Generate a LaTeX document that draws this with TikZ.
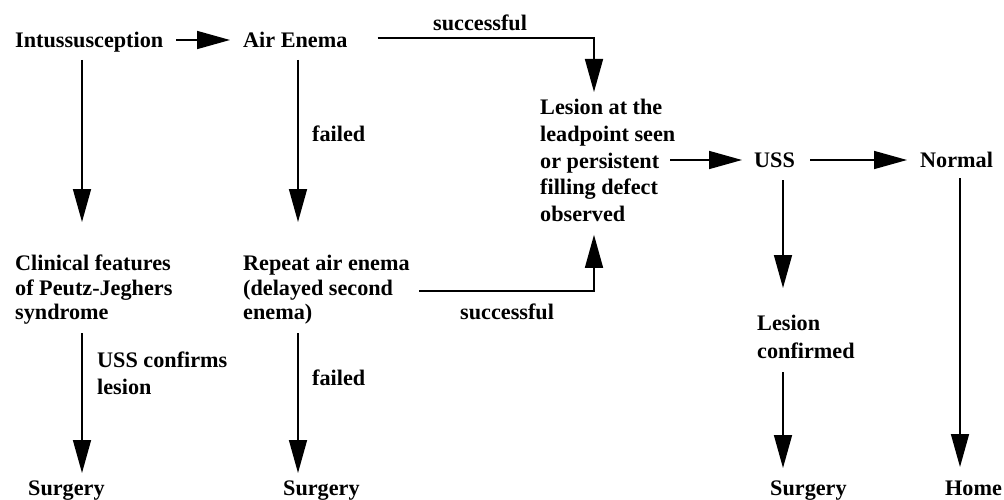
\documentclass[tikz,border=0pt]{standalone}
\usepackage{fontspec}
\setmainfont{Liberation Serif}
\usetikzlibrary{arrows.meta,calc}
\begin{document}
\begin{tikzpicture}[x=1pt,y=-1pt,
  txt/.style={font=\fontsize{22.2}{26.7}\selectfont\bfseries, inner sep=0pt, anchor=west, text height=15pt, text depth=0pt},
  multi/.style={font=\fontsize{22.2}{26.7}\selectfont\bfseries, inner sep=0pt, anchor=north west, align=left},
  arr/.style={line width=1.6pt, -{Triangle[length=33pt,width=18pt]}},
  plain/.style={line width=1.6pt}]
\useasboundingbox (0,0) rectangle (1004,500);
% nodes
\node[txt] (intus) at (15,40) {Intussusception};
\node[txt] (air) at (243,40) {Air Enema};
\node[txt] (succ1) at (433,23) {successful};
\node[multi] (lesion) at (540,99) {Lesion at the\\leadpoint seen\\or persistent\\filling defect\\observed};
\node[txt] (uss) at (754,160) {USS};
\node[txt] (normal) at (920,160) {Normal};
\node[txt] (failed1) at (312,134) {failed};
\node[multi,font=\fontsize{22.2}{24.5}\selectfont\bfseries] (clinical) at (15,255) {Clinical features\\of Peutz-Jeghers\\syndrome};
\node[multi,font=\fontsize{22.2}{24.5}\selectfont\bfseries] (repeat) at (243,255) {Repeat air enema\\(delayed second\\enema)};
\node[txt] (succ2) at (460,312) {successful};
\node[multi] (ussconf) at (97,352) {USS confirms\\lesion};
\node[txt] (failed2) at (312,378) {failed};
\node[multi,font=\fontsize{22.2}{28}\selectfont\bfseries] (lesconf) at (757,315) {Lesion\\confirmed};
\node[txt] (surg1) at (28,488) {Surgery};
\node[txt] (surg2) at (283,488) {Surgery};
\node[txt] (surg3) at (770,488) {Surgery};
\node[txt] (home) at (945,488) {Home};
% connectors
\draw[arr] ($(intus.east)+(13,0)$) -- ($(air.west)+(-13,0)$);
\draw[arr] ($(intus.west)+(67,20)$) -- ($(clinical.north west)+(67,-33)$);
\draw[arr] ($(air.west)+(55,20)$) -- ($(repeat.north west)+(55,-33)$);
\draw[arr] ($(air.east)+(30,-2)$) -| ($(lesion.north west)+(54,-7)$);
\draw[arr] ($(repeat.north west)+(176,36)$) -| ($(lesion.south west)+(54,13)$);
\draw[arr] ($(lesion.north west)+(130,61)$) -- ($(uss.west)+(-12,0)$);
\draw[arr] ($(uss.east)+(15,0)$) -- ($(normal.west)+(-13,0)$);
\draw[arr] ($(uss.west)+(29,20)$) -- ($(lesconf.north west)+(26,-27)$);
\draw[arr] ($(normal.west)+(40,18)$) -- ($(home.west)+(15,-21)$);
\draw[arr] ($(clinical.north west)+(67,78)$) -- ($(surg1.west)+(54,-15)$);
\draw[arr] ($(repeat.north west)+(55,78)$) -- ($(surg2.west)+(15,-15)$);
\draw[arr] ($(lesconf.north west)+(26,57)$) -- ($(surg3.west)+(13,-20)$);
\end{tikzpicture}
\end{document}
